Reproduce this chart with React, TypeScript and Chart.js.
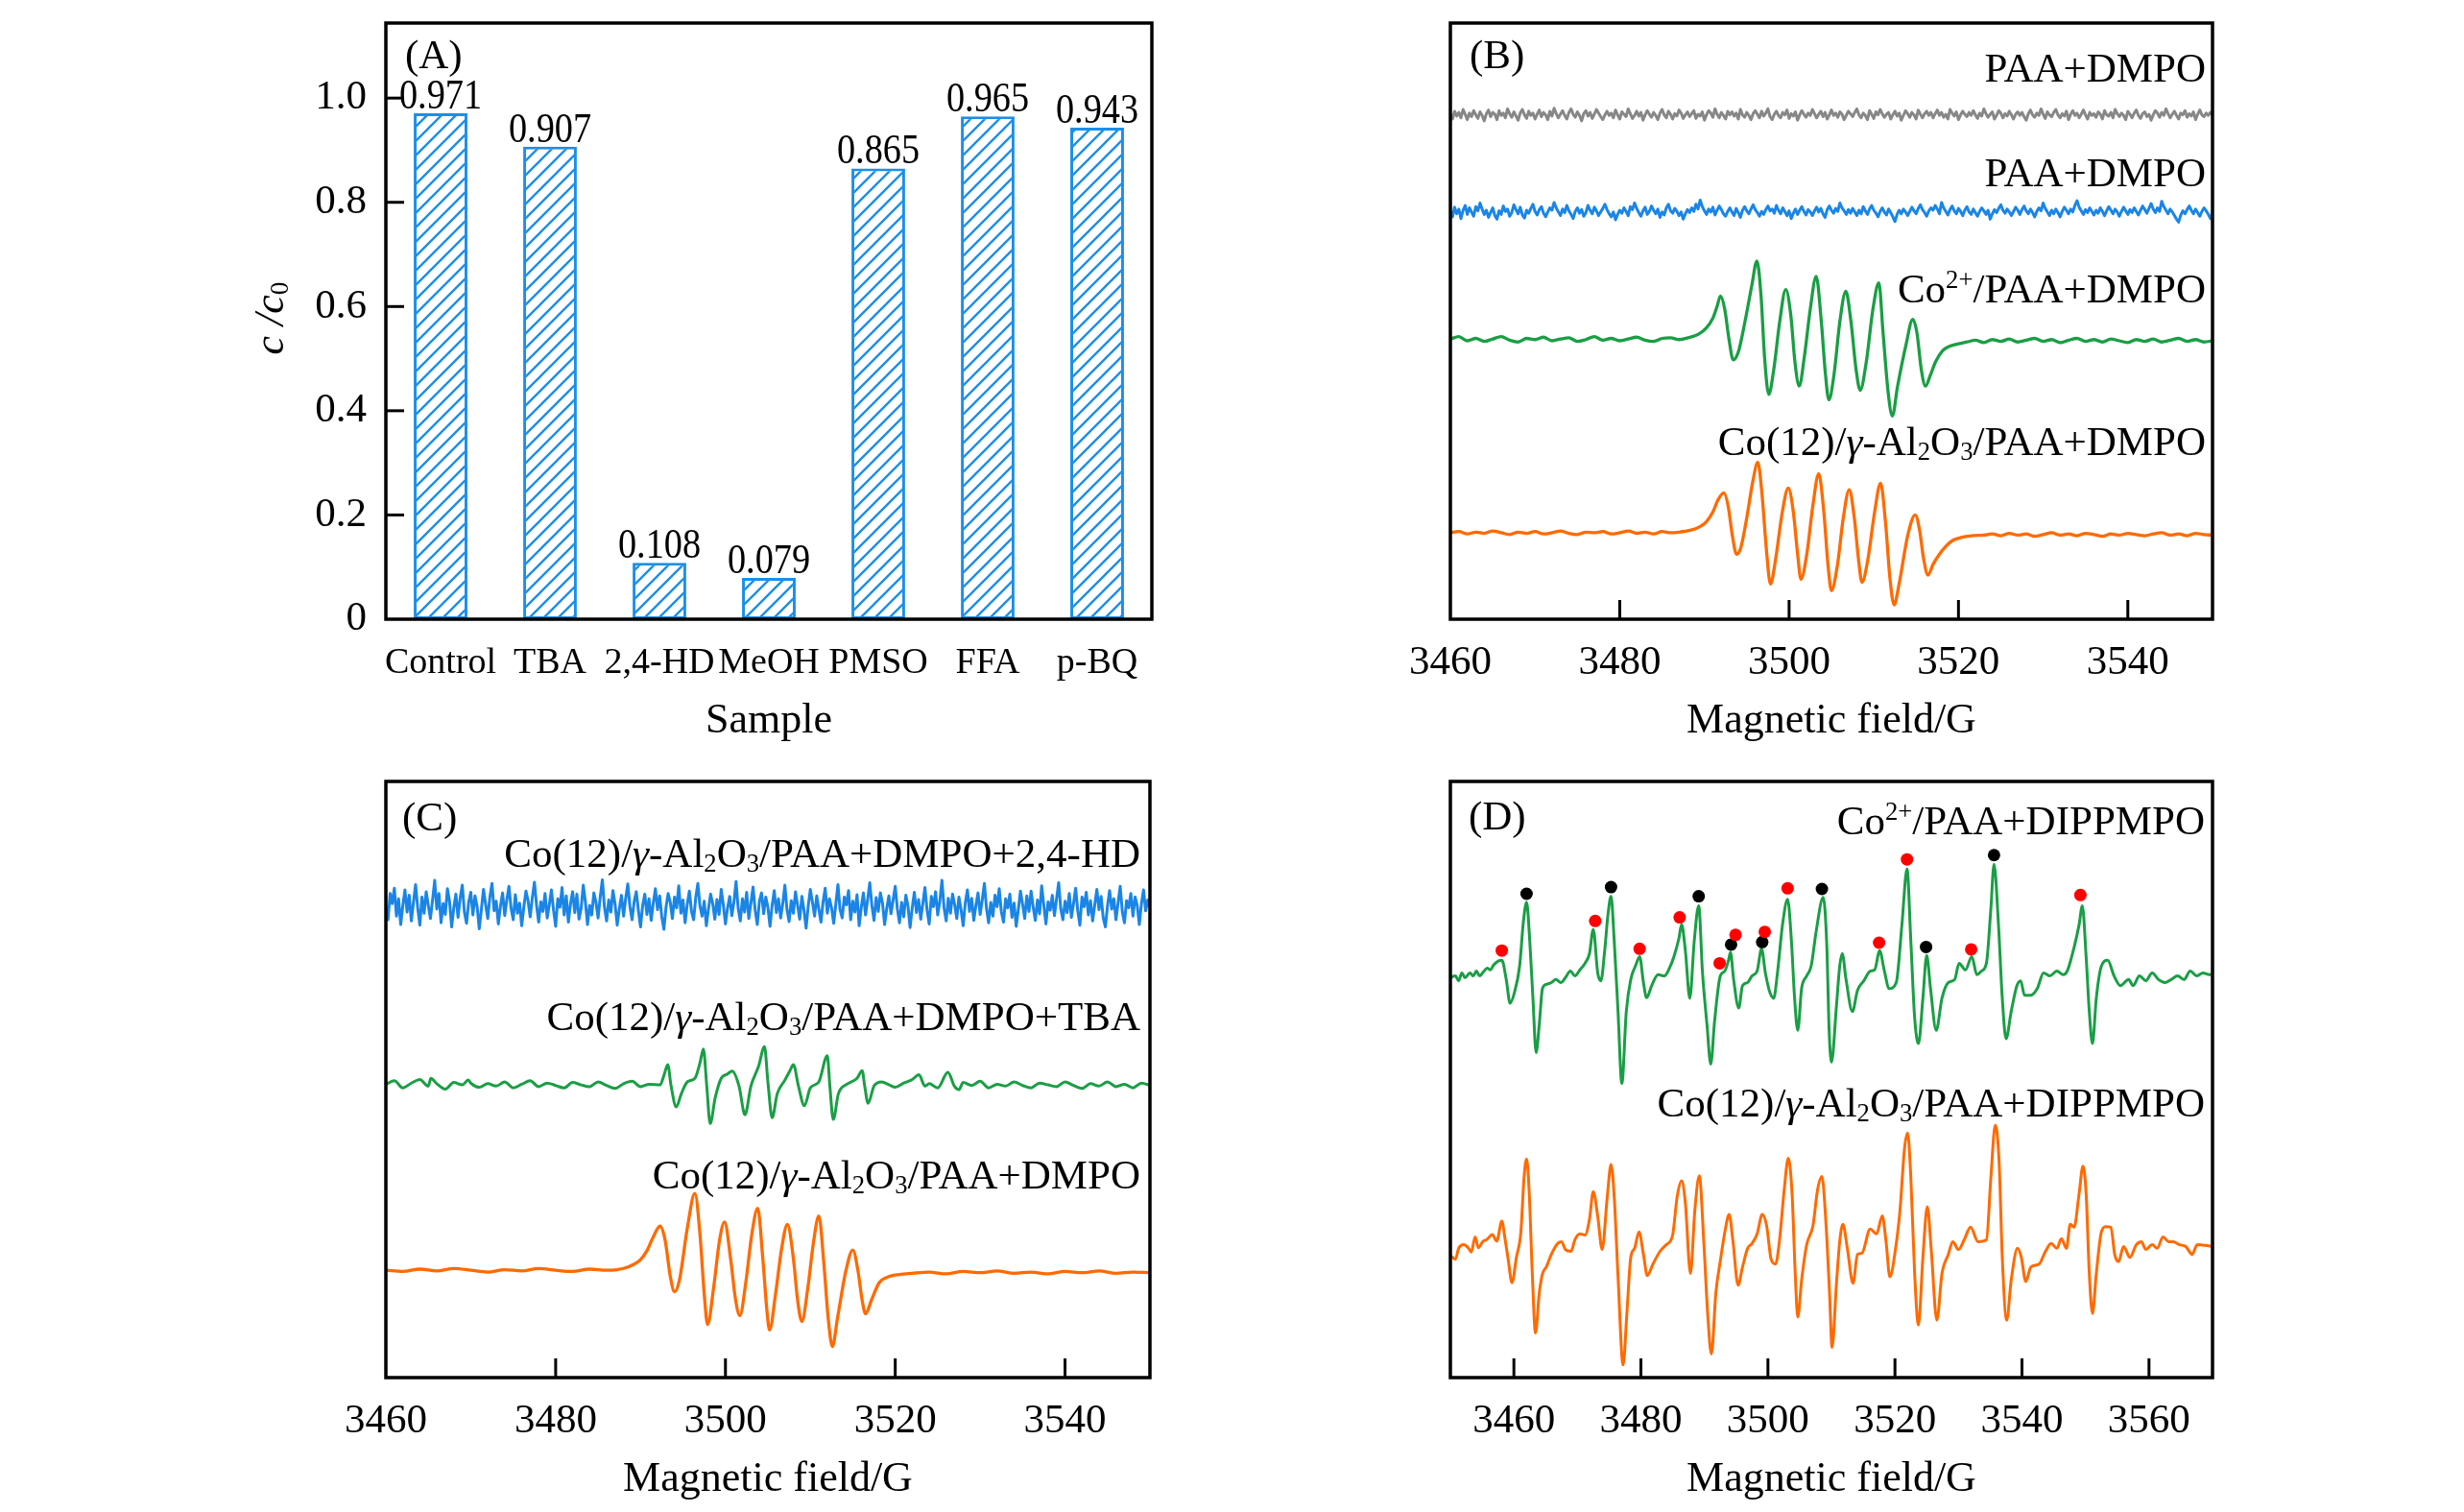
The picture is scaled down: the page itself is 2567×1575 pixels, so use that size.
import React, { useEffect, useRef } from "react";
import { Chart, registerables } from "chart.js";
Chart.register(...registerables);

const FONT = '"Liberation Serif", "Times New Roman", Times, serif';
const BAR_BLUE = "#1b8fe8";
const GRAY = "#878787";
const BLUE = "#1a85e6";
const GREEN = "#1a9e45";
const ORANGE = "#ff6a00";

// ---------- Panel A ----------
const sampleLabels = ["Control", "TBA", "2,4-HD", "MeOH", "PMSO", "FFA", "p-BQ"];
const ratioValues = [0.971, 0.907, 0.108, 0.079, 0.865, 0.965, 0.943];
const ratioTicks = [0, 0.2, 0.4, 0.6, 0.8, 1.0];

// ---------- Panel B ----------
const fieldTicksBC = [3460, 3480, 3500, 3520, 3540];
const grayB = [
  846,839,852,844,850,841,855,847,838,849,843,853,846,840,851,845,836,848,854,
  843,850,847,838,853,845,849,841,856,848,842,851,844,837,849,855,846,840,852,
  845,849,839,847,854,843,850,846,838,852,844,857,848,841,847,853,845,839,850,
  856,847,842,851,845,836,848,853,844,850,840,847,855,849,843,838,846,852,845,
  849,841,854,846,839,851,847,843,856,848,840,845,852,844,850,837,846,853,847,
  842,850,845,838,849,855,846,841,852,847,839,848,844,854,849,840,846,851,843,
  848,853,840,847,844,851,837,846,853,849,842,856,847,841,850,845,839,852,846,
  851,844,849,839,855,846,842,850,845,838,848,853,847,841,852,844,849,856,843,
  838,847,852,845,841,850,846,854,840,848,844,851,837,846,853,847,842,849,845,
  855,848,841,847,852,843,850,839,846,854,845,849,842,851,847,838,845,852,848,
  843,850,856,846,841,849,845,838,853,847,840,851,846,855,848,842,847,850,839,
  846,852,844,849,837,845,853,848,842,850,846,839,854,847,841,848,852,845,850,
  841,848,854,845,850,842,847,839,855,849,844,851,838,846,852,847,843,850,845,
  853,846,840,849,844,856,848,842,847,851,839,845,853,849,841,848,844,852,846,
  839,847,851,845,850,843,837,848,854,846,842,849,845,856,847,840,851,846,843,
  850,855,846,841,848,844,852,838,847,853,845,849,841,847,854,846,839,850,845,
  848,842,851,847,839,853,846,844,850,841,855,848,843,849,845,838,852,847,841,
  849,854,845,840,848,851,843,847,837,846,853,849,842,850,845,856,848,841,847,
  852,845,839,849,846,853,842,848,844,851,838,847,854,846,843,849,845,850,846
];
const blueB = [
  684,675,691,680,688,672,686,694,679,690,683,676,692,685,698,688,679,686,674,
  682,690,677,671,685,679,693,684,688,676,682,695,687,680,691,678,673,686,681,
  689,696,684,678,687,692,681,675,683,690,686,699,690,683,677,688,682,694,685,
  679,672,684,690,681,687,676,682,694,686,680,691,685,677,683,689,696,687,680,
  675,683,670,679,686,681,690,684,677,692,687,698,689,682,676,685,691,679,684,
  693,686,680,688,674,683,678,690,696,685,681,689,684,677,683,671,680,687,682,
  690,684,696,688,703,692,685,679,688,683,691,678,686,693,687,680,676,684,690,
  683,677,689,682,674,686,692,685,680,688,695,687,682,676,684,679,687,693,685,
  688,681,694,686,680,690,684,677,685,672,681,688,679,686,692,684,678,687,683,
  677,685,691,683,689,680,674,687,693,686,681,689,684,698,690,685,679,687,681,
  689,683,677,686,680,692,685,679,688,694,686,681,675,684,690,683,678,688,682,
  675,667,679,686,680,688,683,677,684,691,685,680,689,695,687,682,676,685,690,
  686,694,688,680,699,690,684,678,687,693,685,680,689,684,677,686,692,683,679,
  688,682,676,684,690,685,679,686,671,680,687,682,689,695,686,681,688,683,677,
  684,691,686,679,687,693,685,680,688,682,675,684,690,685,698,689,683,677,686,
  680,688,682,675,684,691,686,680,688,683,694,702,691,685,679,687,682,690,684,
  678,686,681,690,684,677,685,692,686,680,688,683,676,684,691,685,679,687,682,
  690,684,678,686,693,687,681,689,697,688,682,690,684,701,692,686,680,688,683,
  677,671,666,678,685,680,687,693,686,680,688,682,676,684,690,685,679,672,683
];
const greenB = [
  [3460,470],[3461,474],[3462,467],[3463,471],[3464,466],[3465,470],[3466,474],[3467,468],[3468,465],[3469,471],
  [3470,469],[3471,473],[3472,467],[3473,470],[3474,472],[3475,466],[3476,469],[3477,474],[3478,468],[3479,471],
  [3480,467],[3481,470],[3482,473],[3483,468],[3484,466],[3485,471],[3486,472],[3487,469],
  [3488.3,473],[3489.3,478],[3490.2,488],[3491,505],[3491.5,525],[3491.9,542],[3492.4,520],[3492.9,470],[3493.4,435],
  [3494,448],[3494.8,500],[3495.6,560],[3496.2,601],[3496.7,540],[3497.1,440],[3497.6,377],[3498.2,420],[3498.9,500],
  [3499.6,553],[3500.2,510],[3500.7,430],[3501.2,391],[3501.8,440],[3502.5,520],[3503.2,575],[3503.8,500],[3504.3,410],
  [3504.7,368],[3505.3,410],[3506,500],[3506.7,550],[3507.3,500],[3507.9,420],[3508.4,384],[3509.1,430],[3509.9,520],
  [3510.6,564],[3511.1,480],[3511.7,380],[3512.2,341],[3512.8,390],[3513.8,460],[3514.6,503],[3515.1,480],[3515.6,420],
  [3516.1,391],[3516.7,410],[3517.3,432],[3518.1,450],[3519,458],[3520,462],[3521,465],
  [3522,468],[3523,464],[3524,469],[3525,466],[3526,470],[3527,465],[3528,468],[3529,471],[3530,466],[3531,469],
  [3532,464],[3533,468],[3534,471],[3535,466],[3536,469],[3537,465],[3538,470],[3539,467],[3540,464],[3541,469],
  [3542,466],[3543,470],[3544,465],[3545,468],[3546,471],[3547,466],[3548,469],[3549,465],[3550,467]
];
const orangeB = [
  [3460,145],[3461,147],[3462,143],[3463,146],[3464,144],[3465,148],[3466,145],[3467,142],[3468,146],[3469,144],
  [3470,147],[3471,143],[3472,145],[3473,148],[3474,144],[3475,142],[3476,146],[3477,145],[3478,147],[3479,143],
  [3480,145],[3481,148],[3482,144],[3483,146],[3484,143],[3485,147],[3486,145],[3487,146],
  [3488.3,149],[3489.3,154],[3490.2,163],[3491,180],[3491.6,200],[3492.3,212],[3492.8,190],[3493.3,140],[3493.8,109],
  [3494.3,120],[3495,170],[3495.7,230],[3496.3,263],[3496.8,210],[3497.3,120],[3497.8,59],[3498.4,100],[3499.2,180],
  [3499.9,220],[3500.5,180],[3501,110],[3501.4,67],[3502.1,110],[3502.8,190],[3503.5,244],[3504.1,180],[3504.6,90],
  [3505,48],[3505.7,90],[3506.4,170],[3507.1,217],[3507.7,170],[3508.2,100],[3508.6,62],[3509.3,100],[3510.1,180],
  [3510.8,228],[3511.4,160],[3511.9,70],[3512.4,24],[3513,60],[3514,140],[3514.9,175],[3515.4,150],[3515.9,100],
  [3516.4,74],[3517,92],[3517.7,108],[3518.5,122],[3519.3,132],[3520.3,137],[3521.5,140],
  [3523,141],[3524,143],[3525,140],[3526,144],[3527,141],[3528,143],[3529,139],[3530,142],[3531,145],[3532,141],
  [3533,143],[3534,140],[3535,144],[3536,142],[3537,139],[3538,143],[3539,141],[3540,144],[3541,142],[3542,140],
  [3543,143],[3544,145],[3545,141],[3546,143],[3547,140],[3548,144],[3549,142],[3550,141]
];

// ---------- Panel C ----------
const blueC = [
  790,768,812,795,821,774,803,760,792,818,781,809,766,797,827,788,759,806,779,
  815,792,770,801,834,786,812,763,795,777,820,799,756,788,811,772,804,826,781,
  762,797,814,776,808,790,753,785,819,794,770,806,829,783,799,761,791,813,775,
  802,824,787,768,810,779,796,758,789,816,800,773,805,831,792,764,798,782,812,
  771,793,818,784,757,803,789,822,776,808,764,795,815,780,811,769,787,826,798,
  760,792,776,813,797,771,806,835,789,766,801,781,817,794,759,786,809,774,804,
  828,790,768,799,815,783,756,792,811,777,803,767,796,820,785,808,773,752,789,
  812,797,770,806,788,825,779,801,763,794,816,782,768,805,829,791,774,799,758,
  786,811,795,769,802,777,819,793,761,788,807,775,798,832,787,766,803,781,814,
  770,796,823,784,760,799,813,778,806,789,757,792,817,780,803,771,795,826,785,
  765,800,779,815,792,769,807,784,754,791,819,797,774,808,786,764,798,821,779,
  803,788,762,794,827,785,771,806,793,817,768,799,781,810,758,789,813,776,802,
  830,792,767,805,782,813,796,760,787,808,778,801,824,786,763,797,773,809,791,
  755,788,814,780,802,769,795,822,784,761,807,790,815,776,799,834,788,766,804,
  779,811,793,770,806,785,758,796,818,782,804,767,792,813,777,801,829,787,763,
  797,774,809,790,820,781,764,803,788,811,772,796,757,785,816,794,770,808,782,
  816,789,767,801,778,825,792,761,798,784,809,775,803,830,786,768,799,780,812,
  772,795,821,783,759,806,790,814,776,800,766,793,819,785,807,771,756,791,817,
  786,803,768,797,824,781,763,800,788,812,774,806,792,760,795,818,783,801,790
];
const greenC = [
  [3460,492],[3461,498],[3462,486],[3463,494],[3464,500],[3465,489],[3465.3,502],[3466,493],[3467,484],[3468,495],
  [3469,491],[3469.7,499],[3470,494],[3471,487],[3472,493],[3473,489],[3474,496],[3475,486],[3476,492],[3477,498],
  [3478,488],[3479,494],[3480,490],[3481,486],[3482,495],[3483,491],[3484,488],[3485,496],[3486,490],[3487,485],
  [3488,493],[3489,497],[3490,488],[3491,492],
  [3492.3,491],[3492.8,509],[3493.2,525],[3493.6,489],[3494.2,454],[3494.8,476],[3495.5,496],[3496.4,502],[3497,528],
  [3497.4,551],[3497.8,489],[3498.2,426],[3498.8,470],[3499.5,502],[3500.2,509],[3500.8,514],[3501.6,489],[3502.3,441],
  [3503,489],[3503.9,522],[3504.6,555],[3505,496],[3505.5,436],[3506.1,476],[3507,499],[3507.6,515],[3508,525],
  [3508.6,489],[3509.3,456],[3510,486],[3511,496],[3512,540],[3512.3,489],[3512.7,433],[3513.3,476],[3514.3,492],
  [3515.5,502],[3516.1,515],[3516.4,489],[3516.8,460],[3517.5,489],[3518.4,496],[3519.3,491],
  [3520,487],[3521,494],[3522,500],[3522.8,508],[3523.5,489],[3524,493],[3525,486],[3526.2,512],[3527,488],[3527.5,483],
  [3528,495],[3529,490],[3530,497],[3531,486],[3532,492],[3533,489],[3534,496],[3535,490],[3536,486],[3537,494],
  [3538,491],[3539,488],[3540,496],[3541,490],[3542,485],[3543,493],[3544,489],[3545,496],[3546,488],[3547,492],
  [3548,486],[3549,494],[3550,490]
];
const orangeC = [
  [3460,180],[3462,178],[3464,182],[3466,179],[3468,183],[3470,180],[3472,177],[3474,181],[3476,179],[3478,183],
  [3480,180],[3482,178],[3484,182],[3486,180],[3487.2,181],
  [3488.2,184],[3489.2,190],[3490,198],[3490.8,214],[3491.4,233],[3492.3,254],[3492.9,230],[3493.5,170],[3494,144],
  [3494.6,165],[3495.5,250],[3496.4,309],[3497,240],[3497.5,140],[3497.9,89],[3498.6,150],[3499.3,230],[3499.9,261],
  [3500.6,200],[3501.2,130],[3501.7,104],[3502.4,160],[3503.1,240],[3503.8,284],[3504.4,200],[3504.9,110],[3505.2,80],
  [3505.9,140],[3506.6,215],[3507.3,257],[3508,200],[3508.5,130],[3509,94],[3509.7,150],[3510.4,230],[3511,271],
  [3511.6,190],[3512.1,100],[3512.6,52],[3513.2,100],[3514.2,180],[3515,214],[3515.6,180],[3516.1,130],[3516.5,107],
  [3517.2,130],[3518.1,159],[3519,168],[3520.5,173],[3522,175],
  [3524,177],[3526,174],[3528,178],[3530,176],[3532,179],[3534,175],[3536,177],[3538,174],[3540,178],[3542,176],
  [3544,179],[3546,175],[3548,177],[3550,176]
];

// ---------- Panel D ----------
const fieldTicksD = [3460, 3480, 3500, 3520, 3540, 3560];
const greenD = [
  [3450,675],[3450.8,678],[3451.3,670],[3451.8,683],[3452.3,675],[3453.1,683],[3453.6,678],[3454.1,686],[3454.6,678],
  [3455.3,686],[3455.8,691],[3456.3,688],[3456.8,696],[3457.6,703],[3458.1,704],[3458.8,672],[3459.4,633],[3460.1,651],
  [3460.9,694],[3461.5,768],[3462,800],[3462.5,736],[3463,641],[3463.5,551],[3464,598],[3464.5,657],[3465.1,664],
  [3465.9,667],[3466.6,672],[3467.4,667],[3468.1,675],[3468.9,686],[3469.6,678],[3470.4,688],[3471.2,699],[3471.9,715],
  [3472.5,755],[3473.2,683],[3473.7,670],[3474.3,720],[3474.8,778],[3475.3,810],[3475.8,736],[3476.4,619],[3477,500],
  [3477.7,619],[3478.4,672],[3479.2,696],[3479.8,710],[3480.4,667],[3480.9,642],[3481.7,662],[3482.7,680],[3483.7,678],
  [3484.5,691],[3485.2,710],[3486,741],[3486.4,763],[3487,720],[3487.7,641],[3488.4,736],[3489.1,794],[3489.7,683],
  [3490.4,598],[3491,532],[3491.6,603],[3492.5,678],[3493.2,686],[3493.8,704],[3494.1,717],[3494.6,672],[3495.4,625],
  [3496,662],[3496.8,667],[3497.5,678],[3498.3,686],[3499,723],[3499.6,683],[3500.3,651],[3500.9,641],[3501.5,683],
  [3502.3,763],[3503.1,805],[3503.7,736],[3504.2,641],[3504.7,588],[3505.3,657],[3506.1,678],[3506.8,694],[3507.6,752],
  [3508.7,808],[3509.3,720],[3509.6,598],[3510,535],[3510.8,630],[3511.3,694],[3511.7,715],[3512.3,672],[3513.3,619],
  [3514.1,654],[3515.1,670],[3516.1,686],[3516.8,688],[3517.6,720],[3518.3,688],[3519.1,657],[3520.2,667],[3521.1,763],
  [3521.9,855],[3522.5,736],[3523.1,609],[3523.7,566],[3524.4,641],[3525,712],[3525.6,657],[3526.5,588],[3527.4,641],
  [3528.4,667],[3529.4,672],[3530.1,699],[3531.1,688],[3532.1,710],[3532.9,680],[3533.6,686],[3534.4,699],[3535.1,789],
  [3535.6,863],[3536.3,763],[3536.9,641],[3537.5,574],[3538.3,619],[3539.2,662],[3539.8,670],[3540.4,646],[3541.4,646],
  [3542.4,657],[3543.4,683],[3544.4,678],[3545.5,686],[3546.5,680],[3547.2,688],[3548.2,725],[3549,763],[3549.5,794],
  [3550.1,710],[3550.6,619],[3551.1,566],[3551.7,641],[3552.5,694],[3553.5,704],[3554.5,678],[3555.5,662],[3556.8,672],
  [3557.5,662],[3558.5,678],[3559.5,670],[3560.5,683],[3561.5,672],[3562.5,667],[3563.5,672],[3564.5,678],[3565.5,672],
  [3566.5,686],[3567.5,678],[3568.5,683],[3569.5,680],[3570,681]
];
const orangeD = [
  [3450,215],[3450.8,209],[3451.3,227],[3452.1,233],[3452.8,228],[3453.3,221],[3453.9,246],[3454.4,228],[3455.1,238],
  [3455.8,242],[3456.6,250],[3457.3,239],[3458.1,272],[3458.6,243],[3459.1,209],[3459.7,170],[3460.4,212],[3461.1,254],
  [3461.6,344],[3462,375],[3462.4,323],[3462.9,185],[3463.4,87],[3464,153],[3464.5,185],[3465.1,196],[3465.9,217],
  [3466.9,235],[3467.5,238],[3468.1,225],[3469,222],[3469.6,241],[3470.4,251],[3471.2,249],[3471.9,275],[3472.5,321],
  [3473.2,280],[3473.9,225],[3474.7,312],[3475.3,366],[3475.8,312],[3476.4,180],[3477.2,34],[3477.8,121],[3478.4,212],
  [3479,227],[3479.7,254],[3480.4,217],[3481,182],[3481.9,201],[3483,222],[3484,233],[3485,249],[3485.7,312],
  [3486.4,339],[3487,302],[3487.8,185],[3488.5,291],[3489.2,347],[3489.9,238],[3490.5,121],[3491.1,52],[3491.8,153],
  [3492.5,206],[3493.3,259],[3493.9,283],[3494.5,238],[3495.3,166],[3496,196],[3496.8,227],[3497.5,235],[3498.3,251],
  [3499.1,283],[3499.8,264],[3500.5,209],[3501.2,201],[3501.8,238],[3502.6,328],[3503.2,376],[3503.8,318],[3504.3,185],
  [3504.7,113],[3505.3,174],[3506.1,233],[3507.1,265],[3507.8,323],[3508.5,346],[3509.1,275],[3509.7,153],[3510.1,63],
  [3510.8,170],[3511.3,238],[3511.8,267],[3512.5,227],[3513.4,169],[3514.1,217],[3514.8,219],[3516.1,259],[3517.1,251],
  [3518,281],[3518.6,238],[3519.2,180],[3520.1,227],[3520.8,291],[3521.5,392],[3522,418],[3522.5,344],[3523.1,185],
  [3523.7,100],[3524.4,212],[3525.1,296],[3525.7,227],[3526.6,108],[3527.4,185],[3528.4,217],[3529.1,238],[3530,225],
  [3530.9,241],[3531.9,262],[3533.1,238],[3534.4,241],[3535.1,344],[3535.8,431],[3536.4,370],[3536.9,212],[3537.6,108],
  [3538.3,174],[3539.3,227],[3539.9,212],[3540.6,172],[3541.4,196],[3542.7,201],[3543.7,222],[3544.6,235],[3545.5,227],
  [3546.2,243],[3547,227],[3547.6,267],[3548.2,262],[3549,318],[3549.6,363],[3550.1,318],[3550.6,185],[3551.1,119],
  [3551.7,185],[3552.5,254],[3553.2,263],[3554,262],[3554.6,217],[3555.2,205],[3556,230],[3557,212],[3558,233],
  [3558.8,238],[3559.5,225],[3560.5,233],[3561.3,227],[3562.2,246],[3563.1,238],[3563.8,238],[3564.8,233],[3565.8,230],
  [3566.8,217],[3567.6,233],[3568.8,232],[3570,230]
];
const redMarkersD = [
  [3458.1,720],[3472.8,769],[3479.8,723],[3486.1,775],[3492.4,699],[3494.9,746],
  [3499.5,751],[3503.1,823],[3517.5,733],[3521.9,871],[3532.0,722],[3549.2,812]
];
const blackMarkersD = [
  [3462.0,814],[3475.3,825],[3489.1,810],[3494.2,730],[3499.1,734],[3508.5,822],[3524.9,726],[3535.6,878]
];

// ---------- Text labels ----------
type Seg = { t: string; s?: "sub" | "sup"; i?: boolean };
const gammaAl: Seg[] = [{ t: "Co(12)/" }, { t: "γ", i: true }, { t: "-Al" }, { t: "2", s: "sub" }, { t: "O" }, { t: "3", s: "sub" }];
const labelsB: Seg[][] = [
  [{ t: "PAA+DMPO" }],
  [{ t: "PAA+DMPO" }],
  [{ t: "Co" }, { t: "2+", s: "sup" }, { t: "/PAA+DMPO" }],
  [...gammaAl, { t: "/PAA+DMPO" }],
];
const labelsC: Seg[][] = [
  [...gammaAl, { t: "/PAA+DMPO+2,4-HD" }],
  [...gammaAl, { t: "/PAA+DMPO+TBA" }],
  [...gammaAl, { t: "/PAA+DMPO" }],
];
const labelsD: Seg[][] = [
  [{ t: "Co" }, { t: "2+", s: "sup" }, { t: "/PAA+DIPPMPO" }],
  [...gammaAl, { t: "/PAA+DIPPMPO" }],
];
const yTitleA: Seg[] = [{ t: "c", i: true }, { t: " /", i: true }, { t: "c", i: true }, { t: "0", s: "sub" }];

// ---------- helpers ----------
function drawRich(ctx: CanvasRenderingContext2D, segs: Seg[], x: number, yMid: number, size: number, align: "right" | "center") {
  const small = size * 0.62;
  const fontOf = (g: Seg) => `${g.i ? "italic " : ""}${g.s ? small : size}px ${FONT}`;
  let total = 0;
  const widths = segs.map((g) => {
    ctx.font = fontOf(g);
    const w = ctx.measureText(g.t).width;
    total += w;
    return w;
  });
  let cx = align === "right" ? x - total : x - total / 2;
  const base = yMid + size * 0.33;
  ctx.textAlign = "left";
  ctx.textBaseline = "alphabetic";
  segs.forEach((g, k) => {
    ctx.font = fontOf(g);
    const dy = g.s === "sub" ? size * 0.12 : g.s === "sup" ? -size * 0.36 : 0;
    ctx.fillText(g.t, cx, base + dy);
    cx += widths[k];
  });
}

const pairs = (arr: number[][]) => arr.map(([x, y]) => ({ x, y }));
const grid = (arr: number[], x0: number, x1: number) =>
  arr.map((y, i) => ({ x: x0 + (i * (x1 - x0)) / (arr.length - 1), y }));

function framePlugin(id: string, axis: "x" | "y") {
  return {
    id,
    afterDraw(chart: any) {
      const { ctx, chartArea: ca, scales } = chart;
      ctx.save();
      ctx.strokeStyle = "#000";
      ctx.lineWidth = 3;
      const sc = scales[axis];
      for (const t of sc.ticks) {
        const p = sc.getPixelForValue(t.value);
        ctx.beginPath();
        if (axis === "x") {
          if (p <= ca.left + 3 || p >= ca.right - 3) continue;
          ctx.moveTo(p, ca.bottom);
          ctx.lineTo(p, ca.bottom - 20);
        } else {
          if (p >= ca.bottom - 3 || p <= ca.top + 3) continue;
          ctx.moveTo(ca.left, p);
          ctx.lineTo(ca.left + 19, p);
        }
        ctx.stroke();
      }
      ctx.lineWidth = 3.5;
      ctx.strokeRect(ca.left, ca.top, ca.right - ca.left, ca.bottom - ca.top);
      ctx.restore();
    },
  };
}

function textPlugin(id: string, letter: string, letterPos: [number, number], labels: Seg[][], offsets: number[], rightInset: number) {
  return {
    id,
    beforeDatasetsDraw(chart: any) {
      const { ctx, chartArea: ca } = chart;
      ctx.save();
      ctx.fillStyle = "#000";
      ctx.font = `43px ${FONT}`;
      ctx.textAlign = "left";
      ctx.textBaseline = "middle";
      ctx.fillText(letter, ca.left + letterPos[0], ca.top + letterPos[1]);
      labels.forEach((segs, i) => drawRich(ctx, segs, ca.right - rightInset, ca.top + offsets[i], 43, "right"));
      ctx.restore();
    },
  };
}

function eprOptions(xmin: number, xmax: number, ymin: number, ymax: number, ticks: number[], pad: any, axisHeight: number, titleBottom: number) {
  return {
    responsive: false,
    animation: false,
    devicePixelRatio: 1,
    layout: { padding: pad },
    plugins: { legend: { display: false }, tooltip: { enabled: false }, title: { display: false } },
    elements: { point: { radius: 0 } },
    scales: {
      x: {
        type: "linear",
        min: xmin,
        max: xmax,
        grid: { display: false, drawTicks: false },
        border: { display: false },
        afterBuildTicks: (s: any) => {
          s.ticks = ticks.map((v) => ({ value: v }));
        },
        ticks: {
          color: "#000",
          font: { family: FONT, size: 43 },
          padding: 20,
          maxRotation: 0,
          autoSkip: false,
          callback: (v: any) => String(v),
        },
        title: {
          display: true,
          text: "Magnetic field/G",
          color: "#000",
          font: { family: FONT, size: 44 },
          padding: { top: 0, bottom: titleBottom },
        },
        afterFit: (s: any) => {
          s.height = axisHeight;
          s.paddingLeft = 0;
          s.paddingRight = 0;
        },
      },
      y: { type: "linear", display: false, min: ymin, max: ymax },
    },
  };
}

function lineDs(data: any[], color: string, width: number, smooth: boolean) {
  return {
    data,
    borderColor: color,
    borderWidth: width,
    pointRadius: 0,
    fill: false,
    cubicInterpolationMode: smooth ? "monotone" : "default",
    tension: 0,
    borderJoinStyle: "round",
  };
}

export default function App() {
  const aRef = useRef<HTMLCanvasElement>(null);
  const bRef = useRef<HTMLCanvasElement>(null);
  const cRef = useRef<HTMLCanvasElement>(null);
  const dRef = useRef<HTMLCanvasElement>(null);

  useEffect(() => {
    const charts: Chart[] = [];

    // hatch pattern for bars
    const pc = document.createElement("canvas");
    pc.width = 15;
    pc.height = 15;
    const p = pc.getContext("2d")!;
    p.fillStyle = "#fff";
    p.fillRect(0, 0, 15, 15);
    p.strokeStyle = BAR_BLUE;
    p.lineWidth = 2.4;
    p.beginPath();
    p.moveTo(-2, 17);
    p.lineTo(17, -2);
    p.moveTo(-3, 3);
    p.lineTo(3, -3);
    p.moveTo(12, 18);
    p.lineTo(18, 12);
    p.stroke();
    const actx = aRef.current!.getContext("2d")!;
    const pattern = actx.createPattern(pc, "repeat");

    const barValuePlugin = {
      id: "barValues",
      afterDatasetsDraw(chart: any) {
        const { ctx } = chart;
        const meta = chart.getDatasetMeta(0);
        ctx.save();
        ctx.fillStyle = "#000";
        ctx.font = `44px ${FONT}`;
        ctx.textAlign = "center";
        ctx.textBaseline = "alphabetic";
        meta.data.forEach((bar: any, i: number) => {
          ctx.save();
          ctx.translate(bar.x, bar.y - 5);
          ctx.scale(0.87, 1);
          ctx.fillText(ratioValues[i].toFixed(3), 0, 0);
          ctx.restore();
        });
        ctx.restore();
      },
    };
    const aTextPlugin = {
      id: "aText",
      afterDraw(chart: any) {
        const { ctx, chartArea: ca } = chart;
        ctx.save();
        ctx.fillStyle = "#000";
        ctx.font = `43px ${FONT}`;
        ctx.textAlign = "left";
        ctx.textBaseline = "middle";
        ctx.fillText("(A)", ca.left + 20, ca.top + 36);
        ctx.translate(ca.left - 122, (ca.top + ca.bottom) / 2 - 3);
        ctx.rotate(-Math.PI / 2);
        drawRich(ctx, yTitleA, 0, 0, 44, "center");
        ctx.restore();
      },
    };

    charts.push(
      new Chart(aRef.current!, {
        type: "bar",
        data: {
          labels: sampleLabels,
          datasets: [
            {
              data: ratioValues,
              backgroundColor: pattern as any,
              borderColor: BAR_BLUE,
              borderWidth: 3,
              barPercentage: 0.49,
              categoryPercentage: 1,
              borderSkipped: false,
            },
          ],
        },
        options: {
          responsive: false,
          animation: false,
          devicePixelRatio: 1,
          layout: { padding: { top: 24, right: 50, left: 0, bottom: 0 } },
          plugins: { legend: { display: false }, tooltip: { enabled: false }, title: { display: false } },
          scales: {
            x: {
              type: "category",
              offset: true,
              grid: { display: false, drawTicks: false },
              border: { display: false },
              ticks: { color: "#000", font: { family: FONT, size: 38 }, padding: 23, autoSkip: false, maxRotation: 0, minRotation: 0 },
              title: { display: true, text: "Sample", color: "#000", font: { family: FONT, size: 44 }, padding: { top: 0, bottom: 12 } },
              afterFit: (s: any) => {
                s.height = 145;
                s.paddingLeft = 0;
                s.paddingRight = 0;
              },
            },
            y: {
              type: "linear",
              min: 0,
              max: 1.144,
              grid: { display: false, drawTicks: false },
              border: { display: false },
              afterBuildTicks: (s: any) => {
                s.ticks = ratioTicks.map((v) => ({ value: v }));
              },
              ticks: {
                color: "#000",
                font: { family: FONT, size: 43 },
                padding: 20,
                callback: (v: any) => (Number(v) === 0 ? "0" : Number(v).toFixed(1)),
              },
              afterFit: (s: any) => {
                s.width = 152;
                s.paddingTop = 0;
                s.paddingBottom = 0;
              },
            },
          },
        } as any,
        plugins: [barValuePlugin, aTextPlugin, framePlugin("frameA", "y")],
      })
    );

    charts.push(
      new Chart(bRef.current!, {
        type: "line",
        data: {
          datasets: [
            lineDs(grid(grayB, 3460, 3550), GRAY, 3, false),
            lineDs(grid(blueB, 3460, 3550), BLUE, 3, false),
            lineDs(pairs(greenB), GREEN, 3.3, true),
            lineDs(pairs(orangeB), ORANGE, 3.3, true),
          ] as any,
        },
        options: eprOptions(3460, 3550, 0, 1000, fieldTicksBC, { top: 24, left: 161, right: 145, bottom: 0 }, 145, 12) as any,
        plugins: [textPlugin("textB", "(B)", [20, 36], labelsB, [47, 156, 277, 436], 7), framePlugin("frameB", "x")],
      })
    );

    charts.push(
      new Chart(cRef.current!, {
        type: "line",
        data: {
          datasets: [
            lineDs(grid(blueC, 3460, 3550), BLUE, 3, false),
            lineDs(pairs(greenC), GREEN, 3, true),
            lineDs(pairs(orangeC), ORANGE, 3.3, true),
          ] as any,
        },
        options: eprOptions(3460, 3550, 0, 1000, fieldTicksBC, { top: 24, left: 152, right: 52, bottom: 0 }, 140, 7) as any,
        plugins: [textPlugin("textC", "(C)", [17, 40], labelsC, [75, 245, 410], 10), framePlugin("frameC", "x")],
      })
    );

    charts.push(
      new Chart(dRef.current!, {
        type: "line",
        data: {
          datasets: [
            { type: "scatter", data: pairs(redMarkersD), pointRadius: 6.5, pointBackgroundColor: "#ff0000", pointBorderWidth: 0, showLine: false },
            { type: "scatter", data: pairs(blackMarkersD), pointRadius: 6.5, pointBackgroundColor: "#000000", pointBorderWidth: 0, showLine: false },
            lineDs(pairs(greenD), GREEN, 3, true),
            lineDs(pairs(orangeD), ORANGE, 3, true),
          ] as any,
        },
        options: eprOptions(3450, 3570, 13, 1000, fieldTicksD, { top: 24, left: 161, right: 145, bottom: 0 }, 140, 7) as any,
        plugins: [textPlugin("textD", "(D)", [19, 39], labelsD, [41, 335], 8), framePlugin("frameD", "x")],
      })
    );

    return () => charts.forEach((c) => c.destroy());
  }, []);

  return (
    <div style={{ position: "absolute", left: 0, top: 0, width: 2567, height: 1575, background: "#fff", overflow: "hidden" }}>
      <canvas ref={aRef} width={1000} height={790} style={{ position: "absolute", left: 250, top: 0 }} />
      <canvas ref={bRef} width={1100} height={790} style={{ position: "absolute", left: 1350, top: 0 }} />
      <canvas ref={cRef} width={1000} height={785} style={{ position: "absolute", left: 250, top: 790 }} />
      <canvas ref={dRef} width={1100} height={785} style={{ position: "absolute", left: 1350, top: 790 }} />
    </div>
  );
}
